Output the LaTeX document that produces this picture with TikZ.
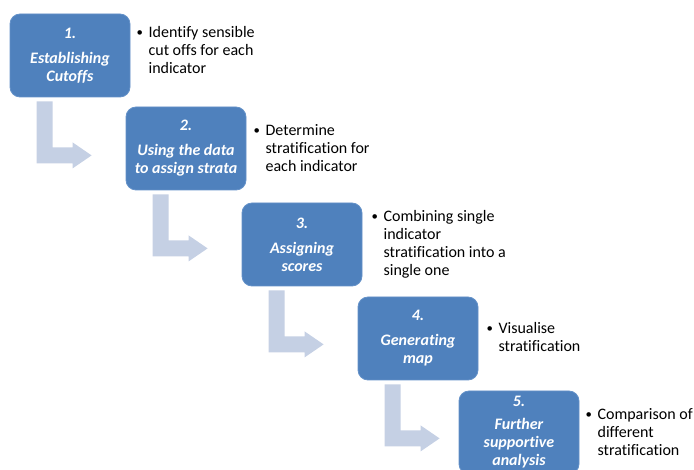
\documentclass[tikz,border=0pt]{standalone}
\usepackage{fontspec}
\setmainfont[Ligatures=NoCommon]{Carlito}
\usetikzlibrary{calc}
\definecolor{boxblue}{RGB}{79,129,189}
\definecolor{boxedge}{RGB}{100,145,200}
\definecolor{arrowblue}{RGB}{197,208,228}
\tikzset{
  stepbox/.style={fill=boxblue, draw=boxedge, line width=0.8pt, rounded corners=10pt,
    minimum width=120pt, minimum height=83pt, inner sep=0pt, align=center, text=white,
    font=\fontsize{16}{18}\selectfont\bfseries\itshape},
  bullettext/.style={anchor=west, inner sep=0pt, align=left, text=black,
    font=\fontsize{16}{18}\selectfont},
  bentarrow/.style={fill=arrowblue, draw=none}
}
\newcommand{\bentarrowpath}[1]{%
  \fill[bentarrow, shift={(#1.south west)}]
    (27,4) -- (43,4) -- (43,50) -- (63,50) -- (63,45) -- (82,58) -- (63,71)
    -- (63,66) -- (27,66) -- cycle;}
\newcommand{\bl}[1]{\begin{tabular}{@{}p{12pt}@{}l@{}}#1\end{tabular}}
\newcommand{\bdot}{\raisebox{0.5pt}{\scalebox{0.8}{\textbullet}}}
\begin{document}
\begin{tikzpicture}[x=1pt,y=-1pt]
\useasboundingbox (0,0) rectangle (694,470);
\node[stepbox] (b1) at (70,55.5) {1.\\[7pt]Establishing\\Cutoffs};
\node[stepbox] (b2) at (186,148.5) {2.\\[7pt]Using the data\\to assign strata};
\node[stepbox] (b3) at (302,244.5) {3.\\[7pt]Assigning\\scores};
\node[stepbox] (b4) at (418,338.5) {4.\\[7pt]Generating\\map};
\node[stepbox] (b5) at (519,432.5) {5.\\[5pt]Further\\supportive\\analysis};

\bentarrowpath{b1}
\bentarrowpath{b2}
\bentarrowpath{b3}
\bentarrowpath{b4}

\node[bullettext] (t1) at ($(b1.east)+(6,-4)$) {\bl{\bdot & Identify sensible\\ & cut offs for each\\ & indicator}};
\node[bullettext] (t2) at ($(b2.east)+(7,1)$) {\bl{\bdot & Determine\\ & stratification for\\ & each indicator}};
\node[bullettext] (t3) at ($(b3.east)+(9,0)$) {\bl{\bdot & Combining single\\ & indicator\\ & stratification into a\\ & single one}};
\node[bullettext] (t4) at ($(b4.east)+(8,0)$) {\bl{\bdot & Visualise\\ & stratification}};
\node[bullettext] (t5) at ($(b5.east)+(6,1)$) {\bl{\bdot & Comparison of\\ & different\\ & stratification}};
\end{tikzpicture}
\end{document}
